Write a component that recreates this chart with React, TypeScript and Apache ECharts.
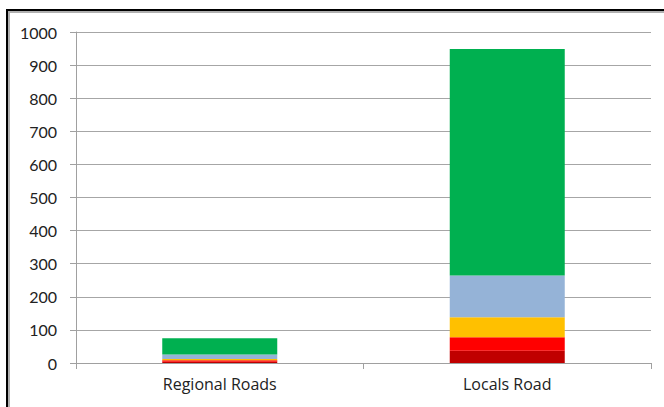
import React, { useEffect, useRef } from "react";
import * as echarts from "echarts";

const categories = ["Regional Roads", "Locals Road"];
const seriesNames = ["S1", "S2", "S3", "S4", "S5"];
const seriesColors = ["#C00000", "#FF0000", "#FFC000", "#95B3D7", "#00B050"];
const darkRedValues = [4, 37];
const redValues = [4, 41];
const orangeValues = [4, 60];
const blueValues = [14, 126];
const greenValues = [49, 685];

export default function App() {
  const ref = useRef<HTMLDivElement>(null);
  useEffect(() => {
    if (!ref.current) return;
    const chart = echarts.init(ref.current, null, { renderer: "svg" });
    const data = [darkRedValues, redValues, orangeValues, blueValues, greenValues];
    chart.setOption({
      animation: false,
      backgroundColor: "#ffffff",
      textStyle: { fontFamily: "Lato, 'Open Sans', sans-serif" },
      graphic: [
        {
          type: "rect",
          shape: { x: 9, y: 12, width: 700, height: 500 },
          style: { fill: "none", stroke: "#b0b0b0", lineWidth: 2 },
          silent: true,
        },
        {
          type: "rect",
          shape: { x: 7, y: 10, width: 700, height: 500 },
          style: { fill: "none", stroke: "#000000", lineWidth: 2 },
          silent: true,
        },
      ],
      grid: { left: 76, right: 13, top: 32, bottom: 44, containLabel: false },
      xAxis: {
        type: "category",
        data: categories,
        axisLine: { lineStyle: { color: "#a0a0a0", width: 1 } },
        axisTick: { show: true, length: 6, lineStyle: { color: "#a0a0a0" }, alignWithLabel: false },
        axisLabel: { color: "#222", fontSize: 16, margin: 13, fontFamily: "'Open Sans', sans-serif" },
      },
      yAxis: {
        type: "value",
        min: 0,
        max: 1000,
        interval: 100,
        axisLine: { show: true, lineStyle: { color: "#a0a0a0", width: 1 } },
        axisTick: { show: true, length: 6, lineStyle: { color: "#a0a0a0" } },
        axisLabel: {
          color: "#222",
          fontSize: 16,
          margin: 19,
          fontFamily: "Lato, sans-serif",
          formatter: (v: number) => String(v),
        },
        splitLine: { show: true, lineStyle: { color: "#a6a6a6", width: 1 } },
      },
      series: data.map((d, i) => ({
        name: seriesNames[i],
        type: "bar",
        stack: "total",
        data: d,
        barWidth: "40%",
        itemStyle: { color: seriesColors[i] },
      })),
    });
    return () => chart.dispose();
  }, []);
  return (
    <div
      ref={ref}
      style={{ position: "fixed", left: 0, top: 0, width: 664, height: 407 }}
    />
  );
}
